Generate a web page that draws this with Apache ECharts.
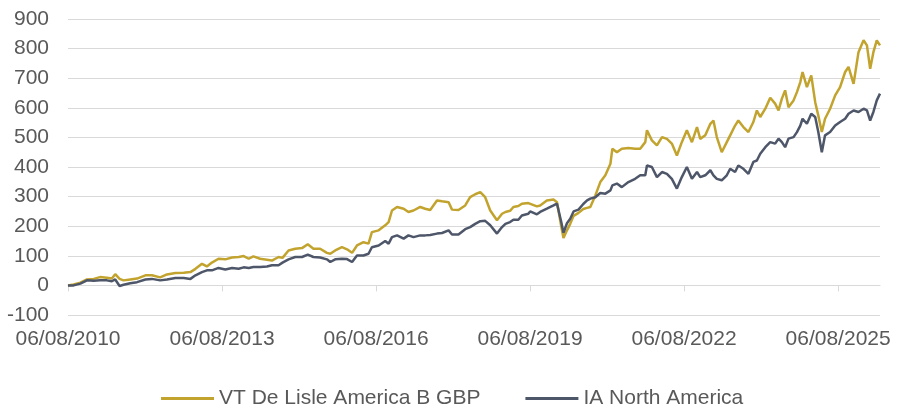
<!DOCTYPE html>
<html>
<head>
<meta charset="utf-8">
<script src="https://cdn.jsdelivr.net/npm/echarts@6/dist/echarts.min.js"></script>
<style>
html,body{margin:0;padding:0;background:#fff;}
#chart{width:905px;height:409px;}
</style>
</head>
<body>
<div id="chart"></div>
<script>
var seriesNames = ['VT De Lisle America B GBP', 'IA North America'];
var tickDates = ['2010-08-06', '2013-08-06', '2016-08-06', '2019-08-06', '2022-08-06', '2025-08-06'];
var yTicks = [-100, 0, 100, 200, 300, 400, 500, 600, 700, 800, 900];

var dates = [
'2010-08-06','2010-09-15','2010-11-02','2010-12-19','2011-02-05','2011-03-22','2011-05-09','2011-06-14','2011-07-08','2011-08-08',
'2011-09-05','2011-10-23','2011-12-10','2012-02-08','2012-03-25','2012-05-23','2012-07-10','2012-09-08','2012-11-06','2012-12-24',
'2013-01-29','2013-03-16','2013-04-20','2013-05-26','2013-07-12','2013-08-29','2013-10-16','2013-12-02','2014-01-07','2014-02-12',
'2014-03-17','2014-05-04','2014-06-21','2014-07-27','2014-09-12','2014-10-10','2014-11-22','2015-01-09','2015-02-26','2015-04-08',
'2015-05-18','2015-07-05','2015-08-22','2015-09-15','2015-10-20','2015-12-07','2016-01-12','2016-02-17','2016-03-23','2016-05-08',
'2016-06-13','2016-07-07','2016-08-24','2016-10-10','2016-11-03','2016-11-27','2017-01-02','2017-02-18','2017-03-24','2017-04-29',
'2017-06-16','2017-07-21','2017-08-26','2017-10-13','2017-11-18','2018-01-04','2018-01-28','2018-03-15','2018-05-02','2018-06-06',
'2018-07-12','2018-08-17','2018-09-21','2018-10-27','2018-12-14','2019-01-19','2019-02-12','2019-03-17','2019-04-10','2019-05-15',
'2019-06-09','2019-07-25','2019-08-07','2019-09-24','2019-10-17','2019-12-04','2020-01-20','2020-02-14','2020-02-27','2020-03-15',
'2020-03-31','2020-04-25','2020-05-18','2020-06-11','2020-07-16','2020-08-19','2020-09-15','2020-10-08','2020-11-13','2020-12-18',
'2021-01-23','2021-02-28','2021-03-14','2021-04-15','2021-05-20','2021-07-06','2021-08-23','2021-09-28','2021-11-03','2021-11-15',
'2021-12-20','2022-01-25','2022-03-02','2022-04-06','2022-05-11','2022-06-16','2022-07-21','2022-08-26','2022-10-01','2022-11-06',
'2022-11-29','2023-01-04','2023-02-09','2023-03-03','2023-03-27','2023-05-01','2023-06-06','2023-06-30','2023-08-04','2023-08-27',
'2023-10-02','2023-11-07','2023-12-12','2024-01-06','2024-01-30','2024-03-06','2024-04-10','2024-05-15','2024-06-08','2024-07-02',
'2024-07-25','2024-08-18','2024-09-23','2024-10-17','2024-11-10','2024-11-26','2024-12-27','2025-01-27','2025-02-24','2025-03-18',
'2025-04-12','2025-05-05','2025-06-10','2025-07-16','2025-08-20','2025-09-25','2025-10-19','2025-11-24','2025-12-29','2026-02-03',
'2026-02-27','2026-03-22','2026-04-14','2026-05-08','2026-05-31'
];

var deLisle = [
0,3,9,20,22,28,26,23,38,22,
17,20,23,34,34,27,37,42,43,45,
56,73,64,77,90,88,94,96,99,90,
98,90,87,84,96,93,118,124,126,139,
124,124,110,107,118,129,122,110,135,146,
141,180,186,203,214,253,265,259,248,253,
265,259,255,287,284,281,256,255,270,298,
308,315,298,253,220,242,248,252,265,268,
276,278,276,267,270,287,290,281,276,200,
160,186,208,235,245,258,262,265,304,349,
372,411,462,450,462,464,462,462,484,524,
490,473,501,495,479,439,484,524,484,535,
495,507,546,557,501,450,484,507,540,557,
535,518,552,591,569,597,634,614,591,631,
659,602,625,653,687,721,670,709,619,574,
518,563,597,642,670,721,738,681,788,828,
811,732,788,828,811
];

var iaNorthAmerica = [
0,0,6,17,16,17,17,14,20,-2,
2,7,11,20,22,17,20,25,25,22,
34,45,51,51,59,54,59,56,61,59,
62,62,64,68,68,77,88,96,96,104,
96,94,88,79,88,90,89,79,101,101,
107,129,135,150,141,163,169,158,169,163,
169,169,170,175,177,186,172,172,190,197,
208,217,218,203,175,197,208,214,222,222,
236,242,250,240,248,259,270,276,270,215,
178,210,225,250,256,275,287,293,298,312,
310,321,338,344,332,349,360,372,372,405,
400,366,383,377,360,327,366,400,360,383,
366,372,389,372,360,355,372,394,383,405,
394,377,417,422,445,467,484,479,496,484,
467,496,501,518,540,563,546,580,569,518,
450,507,518,540,552,563,580,591,586,597,
591,557,586,625,648
];

function pad(n){ return (n < 10 ? '0' : '') + n; }
function parseLocal(s){ var p = s.split('-'); return new Date(+p[0], +p[1]-1, +p[2]).getTime(); }
function fmt(v){ var d = new Date(v); return pad(d.getDate()) + '/' + pad(d.getMonth()+1) + '/' + d.getFullYear(); }

var tickValues = tickDates.map(parseLocal);
var xMin = parseLocal(dates[0]);
var xMax = parseLocal(dates[dates.length-1]);

function pairs(vals){ return dates.map(function(d,i){ return [parseLocal(d), vals[i]]; }); }

var textColor = '#595959';
var gridColor = '#d9d9d9';
var fontFamily = '"Liberation Sans", Arial, sans-serif';

var chart = echarts.init(document.getElementById('chart'), null, {renderer:'canvas'});
chart.setOption({
  animation: false,
  backgroundColor: '#ffffff',
  textStyle: {fontFamily: fontFamily},
  grid: {left: 68, right: 25, top: 19, bottom: 94, containLabel: false},
  legend: {
    left: 156, top: 383,
    itemWidth: 53, itemHeight: 3, itemGap: 45,
    icon: 'rect',
    textStyle: {color: textColor, fontSize: 21, fontFamily: fontFamily},
    data: seriesNames
  },
  xAxis: [{
    type: 'value',
    min: xMin, max: xMax,
    axisLine: {show: false, onZero: false},
    axisTick: {show: false},
    splitLine: {show: false},
    axisLabel: {
      customValues: tickValues,
      formatter: function(v){ return fmt(v); },
      color: textColor, fontSize: 21, fontFamily: fontFamily, margin: 14,
      hideOverlap: false
    }
  },{
    type: 'value',
    min: xMin, max: xMax,
    position: 'bottom',
    axisLine: {show: true, onZero: true, lineStyle: {color: gridColor, width: 1}},
    axisTick: {show: true, customValues: tickValues, length: 6, inside: false, lineStyle: {color: gridColor, width: 1}},
    axisLabel: {show: false},
    splitLine: {show: false}
  }],
  yAxis: {
    type: 'value',
    min: yTicks[0], max: yTicks[yTicks.length-1], interval: 100,
    axisLine: {show: false},
    axisTick: {show: false},
    splitLine: {show: true, lineStyle: {color: gridColor, width: 1}},
    axisLabel: {color: textColor, fontSize: 21, fontFamily: fontFamily, margin: 19}
  },
  series: [{
    name: seriesNames[0],
    type: 'line',
    xAxisIndex: 0,
    data: pairs(deLisle),
    showSymbol: false,
    symbol: 'none',
    lineStyle: {color: '#C2A32E', width: 2.5},
    itemStyle: {color: '#C2A32E'}
  },{
    name: seriesNames[1],
    type: 'line',
    xAxisIndex: 0,
    data: pairs(iaNorthAmerica),
    showSymbol: false,
    symbol: 'none',
    lineStyle: {color: '#4E5669', width: 2.5},
    itemStyle: {color: '#4E5669'}
  }]
});
</script>
</body>
</html>
